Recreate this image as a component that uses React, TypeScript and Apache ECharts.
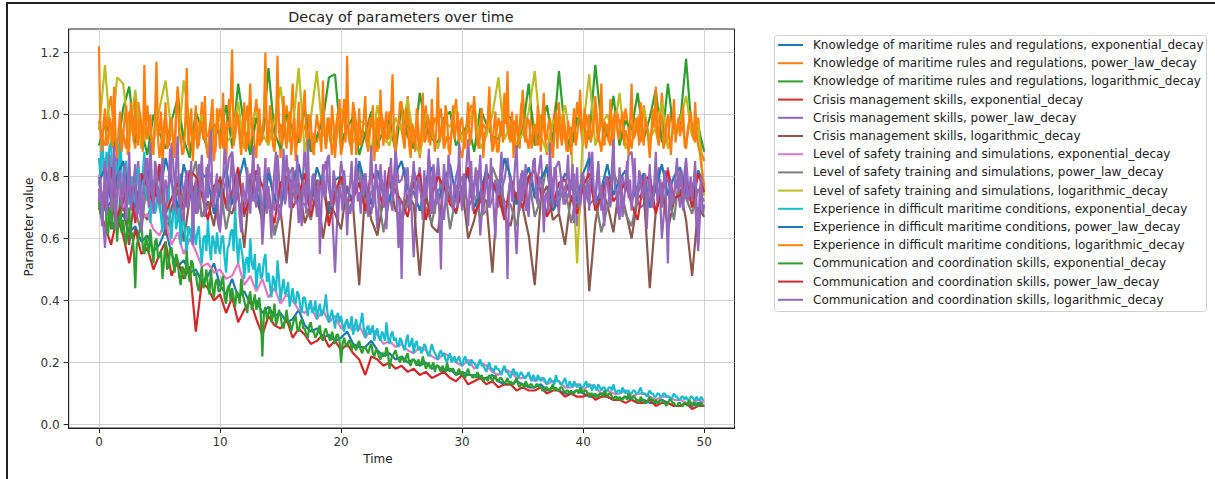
import React, { useEffect, useRef } from "react";
import * as echarts from "echarts";

const FONT = "DejaVu Sans";

const seriesNames = [
  "Knowledge of maritime rules and regulations, exponential_decay",
  "Knowledge of maritime rules and regulations, power_law_decay",
  "Knowledge of maritime rules and regulations, logarithmic_decay",
  "Crisis management skills, exponential_decay",
  "Crisis management skills, power_law_decay",
  "Crisis management skills, logarithmic_decay",
  "Level of safety training and simulations, exponential_decay",
  "Level of safety training and simulations, power_law_decay",
  "Level of safety training and simulations, logarithmic_decay",
  "Experience in difficult maritime conditions, exponential_decay",
  "Experience in difficult maritime conditions, power_law_decay",
  "Experience in difficult maritime conditions, logarithmic_decay",
  "Communication and coordination skills, exponential_decay",
  "Communication and coordination skills, power_law_decay",
  "Communication and coordination skills, logarithmic_decay",
];

const colors = [
  "#1f77b4", "#ff7f0e", "#2ca02c", "#d62728", "#9467bd",
  "#8c564b", "#e377c2", "#7f7f7f", "#bcbd22", "#17becf",
  "#1f77b4", "#ff7f0e", "#2ca02c", "#d62728", "#9467bd",
];

const T_END = 50;
const xTicks = [0, 10, 20, 30, 40, 50];
const yTicks = [0, 0.2, 0.4, 0.6, 0.8, 1.0, 1.2];

// 1 Knowledge exponential (101 samples over 0..50)
const knowledgeExp = [
  .75,.69,.72,.65,.68,.62,.64,.59,.61,.56,.58,.63,.55,.51,.53,.49,.50,.46,.48,.52,
  .45,.42,.47,.41,.43,.39,.40,.36,.38,.35,.36,.33,.34,.37,.32,.30,.31,.28,.29,.27,
  .28,.30,.26,.25,.25,.27,.24,.22,.23,.21,.22,.20,.21,.19,.20,.18,.19,.17,.18,.16,
  .17,.16,.16,.15,.15,.16,.14,.13,.13,.14,.13,.12,.12,.13,.11,.12,.11,.10,.10,.11,
  .10,.09,.09,.10,.09,.08,.08,.09,.08,.07,.08,.07,.07,.08,.07,.06,.06,.07,.06,.07,
  .06,
];
// 2 Knowledge power law (201)
const knowledgePow = [
  .98,.92,.90,1.01,1.06,.93,.87,.96,.94,.89,1.01,.95,.89,1.04,.97,.91,1.03,.88,.92,.99,
  .86,.94,1.00,.90,.95,.91,1.09,.97,.91,1.02,.88,.93,.99,.90,1.04,.94,.93,.98,.85,.96,
  1.02,.89,.96,1.05,.89,.94,1.00,.92,.94,1.03,.87,.97,1.05,.90,.92,.99,.97,.93,.90,1.06,
  .86,.95,1.03,.91,1.10,.89,.93,.98,.95,1.00,.88,.94,.91,.96,1.02,.89,.99,.87,.94,1.01,
  .87,.93,.96,.90,1.04,.97,.90,.95,.93,.88,1.00,.92,.88,1.02,.97,.91,1.01,.95,.92,.98,
  .95,.89,1.06,.93,.90,.97,.86,.94,1.03,.91,.94,.99,.97,1.02,.89,.93,.92,.96,1.05,.90,
  .86,.94,.99,1.03,1.02,.90,.93,.97,.95,1.00,.88,.92,.99,.93,1.07,.95,.91,.98,.96,.89,
  1.08,.94,.89,1.01,.94,.90,1.00,.96,.87,.93,.97,1.04,1.01,.95,.92,.88,.96,.91,1.04,.97,
  .90,1.00,.95,.93,1.06,.94,.88,.98,.93,.90,.99,1.02,.97,.92,1.02,.95,.89,.99,.94,.91,
  1.03,.96,.91,.97,.95,.90,1.07,.93,.92,1.01,.98,.94,1.00,.95,.90,.97,.94,.91,.99,.88,
  .85,
];
// 3 Knowledge logarithmic (101)
const knowledgeLog = [
  .90,.97,.93,.88,1.02,1.09,.91,.95,.87,1.00,.94,.89,.98,1.05,.92,.86,1.01,.95,.88,.97,
  .93,1.03,.90,1.10,.96,.87,.99,.92,1.15,.94,.89,1.00,.95,.91,1.02,.88,.93,.98,1.12,1.13,
  .91,.96,.99,.87,.94,1.01,.90,.95,.98,.88,1.03,.93,.89,1.07,.96,.92,.91,.99,1.01,.90,
  .94,.97,.88,1.02,.97,.93,.92,1.00,.99,.89,.95,1.10,.90,.96,1.03,.91,1.14,.94,.89,.99,
  .96,.92,1.16,.97,.93,1.06,.90,.98,.95,1.07,.92,.99,1.08,.91,1.10,.94,.97,1.18,.93,.96,
  .88,
];
// 4 Crisis exponential (101)
const crisisExp = [
  .70,.64,.58,.67,.61,.52,.63,.55,.57,.50,.55,.59,.48,.53,.47,.51,.30,.46,.44,.40,
  .42,.36,.41,.33,.37,.40,.34,.29,.35,.32,.31,.34,.28,.31,.29,.26,.27,.29,.25,.27,
  .24,.26,.23,.21,.16,.22,.21,.19,.20,.18,.19,.17,.18,.16,.17,.15,.16,.17,.15,.14,
  .16,.13,.14,.15,.13,.14,.12,.13,.13,.11,.12,.11,.11,.12,.10,.11,.11,.09,.10,.09,
  .09,.10,.08,.09,.09,.08,.08,.07,.08,.07,.07,.08,.06,.07,.07,.06,.06,.07,.05,.06,
  .06,
];
// 5 Crisis power law (201)
const crisisPow = [
  .80,.71,.57,.76,.74,.82,.88,.70,.69,.77,.83,.73,.77,.85,.64,.72,.86,.75,.72,.80,
  .70,.66,.79,.74,.91,.78,.66,.81,.75,.70,.82,.76,.68,.84,.77,.71,.84,.79,.71,.67,
  .62,.74,.79,.86,.88,.77,.73,.69,.70,.76,.81,.72,.76,.83,.58,.74,.83,.78,.69,.87,
  .72,.75,.87,.70,.78,.82,.65,.73,.90,.71,.74,.80,.67,.76,.80,.85,.76,.70,.49,.73,
  .85,.78,.71,.68,.73,.84,.79,.75,.81,.72,.68,.77,.63,.80,.77,.71,.74,.69,.89,.78,
  .79,.83,.70,.75,.54,.76,.83,.72,.71,.87,.76,.68,.86,.74,.66,.79,.75,.71,.80,.84,
  .69,.77,.92,.73,.78,.82,.61,.75,.84,.70,.73,.79,.70,.76,.79,.86,.77,.72,.55,.78,
  .82,.69,.72,.80,.74,.79,.87,.71,.68,.75,.79,.83,.85,.77,.71,.74,.76,.81,.64,.70,
  .80,.73,.88,.76,.73,.84,.69,.78,.79,.71,.83,.75,.66,.80,.75,.87,.88,.76,.72,.70,
  .71,.78,.81,.74,.77,.83,.60,.72,.83,.69,.74,.79,.70,.77,.86,.73,.78,.71,.56,.75,
  .74,
];
// 6 Crisis logarithmic (101)
const crisisLog = [
  .70,.76,.63,.80,.72,.58,.77,.69,.66,.74,.81,.61,.70,.76,.59,.73,.78,.67,.72,.64,
  .80,.70,.68,.75,.57,.79,.73,.66,.76,.62,.69,.52,.74,.78,.65,.71,.79,.60,.72,.68,
  .63,.77,.70,.45,.76,.66,.61,.73,.79,.69,.67,.74,.71,.48,.75,.64,.62,.78,.73,.68,
  .77,.60,.66,.74,.72,.49,.79,.67,.64,.75,.70,.61,.45,.73,.77,.66,.68,.58,.74,.70,
  .80,.43,.65,.76,.71,.62,.78,.69,.60,.73,.75,.44,.69,.77,.63,.72,.76,.66,.48,.70,
  .67,
];
// 7 Level exponential (101)
const levelExp = [
  .80,.86,.74,.79,.70,.76,.72,.66,.68,.63,.61,.66,.58,.62,.55,.60,.56,.51,.52,.49,
  .50,.47,.48,.52,.45,.48,.43,.47,.41,.44,.39,.42,.40,.37,.36,.38,.34,.37,.33,.35,
  .31,.33,.30,.32,.28,.31,.29,.26,.27,.25,.26,.24,.23,.25,.24,.22,.21,.23,.22,.20,
  .19,.21,.18,.20,.19,.17,.16,.18,.17,.15,.15,.16,.14,.15,.13,.14,.14,.12,.12,.13,
  .11,.13,.12,.10,.11,.10,.10,.11,.09,.10,.10,.09,.08,.09,.09,.08,.08,.07,.07,.08,
  .07,
];
// 8 Level power law (101)
const levelPow = [
  .78,.71,.66,.83,.74,.79,.69,.62,.81,.73,.76,.68,.64,.80,.72,.77,.85,.67,.70,.74,
  .78,.63,.73,.82,.67,.75,.80,.70,.74,.61,.69,.79,.83,.72,.71,.66,.76,.81,.65,.73,
  .79,.69,.72,.84,.68,.75,.77,.62,.73,.80,.66,.71,.82,.76,.70,.65,.75,.79,.63,.74,
  .80,.70,.74,.67,.69,.83,.78,.72,.71,.64,.76,.80,.67,.73,.84,.69,.72,.77,.65,.75,
  .79,.71,.73,.62,.70,.81,.77,.68,.64,.74,.81,.72,.69,.78,.75,.66,.82,.73,.68,.76,
  .72,
];
// 9 Level logarithmic (101)
const levelLog = [
  .95,1.16,.90,1.12,1.10,.93,1.08,.89,.96,.91,1.02,1.11,.94,.88,1.11,.97,.92,1.00,.87,.95,
  .99,.91,.93,1.04,.89,.97,1.01,.94,.90,.98,1.09,.92,.95,1.15,.88,.99,1.14,.93,.96,.90,
  1.02,.94,.91,.98,.97,.88,1.03,.93,.90,.99,.95,1.05,.92,.87,1.00,.94,.89,.98,.96,1.02,
  .91,.95,1.04,.89,.93,1.00,1.12,.92,.97,.90,.94,1.01,1.14,.93,.88,.98,.95,1.03,.91,.52,
  .96,1.13,.90,.97,1.00,.93,1.07,.89,.94,.99,1.02,.92,.96,1.04,.89,.95,.98,1.06,.93,.97,
  .74,
];
// 10 Experience exponential (401)
const experienceExp = [
  .86,.80,.95,.84,.78,.88,.83,.90,.91,.79,.74,.85,.82,.76,.97,.81,.77,.83,.85,.74,
  .71,.79,.80,.73,.69,.78,.83,.72,.76,.81,.88,.75,.72,.76,.65,.73,.79,.68,.70,.77,
  .74,.67,.62,.71,.68,.73,.77,.64,.60,.69,.71,.63,.66,.70,.58,.65,.67,.61,.55,.64,
  .63,.59,.70,.62,.58,.62,.64,.57,.52,.60,.61,.56,.66,.58,.53,.61,.59,.55,.62,.57,
  .55,.60,.61,.54,.49,.57,.58,.62,.63,.56,.70,.59,.52,.60,.57,.54,.47,.53,.54,.49,
  .60,.52,.50,.55,.44,.50,.52,.47,.48,.53,.55,.46,.49,.45,.41,.48,.46,.43,.53,.47,
  .40,.44,.47,.42,.43,.46,.38,.41,.44,.40,.39,.43,.42,.38,.36,.41,.41,.38,.35,.39,
  .40,.36,.37,.40,.34,.37,.39,.35,.36,.38,.42,.36,.33,.35,.37,.34,.31,.35,.36,.33,
  .35,.32,.30,.33,.34,.31,.32,.35,.29,.32,.34,.30,.31,.33,.36,.31,.28,.31,.32,.29,
  .30,.32,.27,.30,.31,.28,.27,.30,.29,.27,.33,.28,.26,.29,.30,.27,.28,.26,.25,.28,
  .27,.25,.24,.27,.29,.25,.26,.28,.23,.26,.27,.24,.25,.23,.24,.26,.25,.23,.22,.24,
  .26,.24,.23,.22,.21,.23,.24,.22,.23,.21,.20,.22,.23,.20,.21,.22,.20,.21,.22,.20,
  .19,.21,.22,.20,.20,.19,.21,.20,.20,.19,.18,.20,.21,.19,.19,.18,.17,.19,.20,.18,
  .18,.17,.19,.18,.18,.17,.16,.18,.19,.17,.17,.16,.15,.17,.18,.16,.17,.15,.16,.17,
  .16,.15,.15,.16,.17,.15,.14,.16,.15,.14,.16,.15,.14,.15,.15,.14,.13,.14,.15,.14,
  .14,.13,.16,.14,.14,.13,.13,.14,.15,.13,.12,.14,.13,.12,.14,.13,.12,.13,.13,.12,
  .12,.13,.14,.12,.13,.12,.11,.13,.12,.11,.13,.12,.11,.12,.12,.11,.11,.12,.12,.11,
  .13,.11,.10,.11,.11,.10,.12,.11,.10,.11,.11,.10,.10,.11,.11,.10,.10,.11,.12,.10,
  .10,.10,.09,.10,.11,.10,.10,.09,.09,.10,.10,.09,.09,.10,.10,.09,.09,.09,.08,.09,
  .10,.09,.09,.08,.08,.09,.09,.08,.09,.08,.08,.09,.09,.08,.08,.09,.08,.08,.09,.08,
  .08,
];
// 11 Experience power law (101)
const experiencePow = [
  .78,.83,.72,.80,.85,.74,.70,.79,.82,.75,.73,.86,.78,.70,.84,.76,.72,.81,.79,.68,
  .75,.83,.71,.78,.86,.74,.76,.67,.81,.73,.70,.80,.78,.84,.74,.72,.83,.77,.68,.79,
  .80,.75,.73,.85,.77,.71,.82,.74,.72,.81,.85,.76,.75,.69,.79,.83,.72,.78,.84,.73,
  .76,.81,.70,.75,.82,.77,.74,.86,.80,.71,.77,.83,.73,.79,.83,.69,.75,.81,.78,.72,
  .81,.86,.71,.76,.84,.74,.79,.82,.72,.77,.81,.70,.76,.84,.74,.80,.83,.75,.72,.82,
  .77,
];
// 12 Experience logarithmic (401)
const experienceLog = [
  1.22,.95,.88,.97,1.02,.90,.91,.99,.97,.89,1.09,.93,.86,.95,1.01,.88,.93,.99,1.03,.87,
  .89,1.04,.98,.91,1.05,.92,.90,1.00,.96,.88,1.16,.94,.92,.97,1.00,.90,.87,.99,1.17,.93,
  .95,1.01,.84,.92,1.04,.89,.90,.98,.99,.91,.86,1.00,1.08,.94,.93,.87,.88,.96,1.15,.90,
  .94,1.02,.85,.93,1.03,.89,.91,.98,.97,.92,1.06,.90,.86,.94,.99,1.05,.92,.88,1.02,.96,
  .89,.93,1.07,.91,.84,.97,.96,1.04,1.21,.90,.93,1.01,.98,.92,.87,.95,1.04,.88,.90,.99,
  1.10,.93,.95,.89,.86,.97,1.02,.91,.94,1.00,1.20,.92,.91,1.03,.99,.90,.88,.96,1.19,.94,
  .97,.90,1.06,.93,.89,.98,1.01,.87,.92,.99,.85,.94,1.04,.91,.96,1.02,1.08,.93,.90,1.00,
  .98,.89,.87,.95,1.00,.96,.93,.88,1.11,.94,.89,.99,.95,.91,1.03,.97,.86,.93,.99,1.05,
  .90,.98,1.05,.91,1.19,.95,.92,.87,.98,1.01,.87,.93,1.02,.90,.94,.99,1.06,.92,.91,.99,
  .96,1.03,.85,.94,.99,.89,1.08,.95,.90,.97,1.01,.92,.93,1.00,1.13,.91,.88,.96,.97,1.04,
  1.04,.94,.91,1.02,.99,.90,.86,.97,.95,.88,1.02,.96,.89,.93,1.07,.91,.92,1.00,.98,.90,
  1.05,.94,.88,.96,1.12,.91,.94,.99,.90,1.03,1.00,.89,.87,.95,1.03,.92,.96,1.01,.91,.98,
  .99,.93,.89,.97,1.04,.90,.93,1.00,1.06,.95,.92,.89,.97,1.02,.86,.94,.95,.99,1.09,.93,
  .90,.96,1.01,.88,.88,.94,.98,.91,1.02,.97,1.14,.92,.93,1.01,.86,.95,1.00,.90,.96,1.03,
  1.05,.93,.91,.99,.98,.94,.89,.96,.97,.90,1.03,.95,.88,.99,1.07,.92,.92,.97,.99,.91,
  .86,.94,1.01,.89,1.04,.93,.90,1.00,.95,.88,.98,.94,.87,.96,1.02,.90,.93,.99,1.08,.95,
  .96,1.02,.89,.93,1.00,.91,.94,.98,1.03,.95,.91,.97,1.10,.92,.90,.96,.97,.91,1.05,.94,
  .88,1.01,.99,.93,.92,.98,1.01,.90,.95,.93,.87,.97,1.10,.92,.93,.97,.99,.90,1.04,.95,
  .90,.99,.97,.92,.86,.94,1.02,.96,1.09,.93,.94,1.00,.99,.89,.91,.97,1.00,.92,.87,.96,
  1.05,.91,.95,.99,.93,.97,1.03,.90,.89,.95,.98,1.01,.96,.92,1.04,.94,.90,.88,.84,.80,
  .76,
];
// 13 Communication exponential (401)
const communicationExp = [
  .72,.68,.66,.74,.78,.65,.61,.70,.70,.63,.64,.69,.59,.67,.73,.62,.66,.61,.58,.65,
  .70,.60,.62,.56,.44,.58,.60,.63,.67,.57,.55,.61,.58,.55,.63,.57,.52,.59,.60,.54,
  .54,.56,.47,.53,.59,.50,.51,.57,.57,.52,.49,.55,.53,.48,.45,.51,.50,.47,.56,.49,
  .46,.53,.52,.48,.49,.45,.43,.48,.51,.44,.46,.50,.45,.42,.50,.44,.41,.46,.47,.43,
  .43,.46,.48,.41,.39,.44,.45,.40,.44,.41,.38,.43,.42,.39,.47,.42,.40,.38,.36,.41,
  .43,.37,.39,.42,.37,.39,.41,.35,.22,.36,.38,.34,.36,.38,.33,.35,.39,.32,.34,.37,
  .35,.32,.31,.34,.37,.33,.33,.30,.32,.34,.35,.31,.30,.33,.34,.31,.31,.29,.28,.32,
  .33,.30,.30,.28,.29,.31,.32,.28,.27,.30,.31,.29,.28,.27,.30,.28,.26,.29,.29,.27,
  .20,.26,.28,.26,.25,.27,.27,.24,.26,.25,.24,.26,.27,.24,.23,.25,.25,.24,.23,.25,
  .26,.23,.22,.24,.24,.22,.21,.23,.23,.22,.25,.23,.18,.21,.22,.23,.24,.22,.21,.20,
  .22,.21,.20,.22,.23,.20,.19,.21,.21,.20,.19,.21,.20,.19,.22,.20,.18,.19,.20,.18,
  .19,.20,.17,.19,.19,.18,.17,.19,.18,.17,.20,.18,.17,.18,.18,.17,.16,.17,.18,.16,
  .17,.16,.15,.17,.18,.16,.16,.15,.16,.15,.17,.16,.15,.16,.14,.15,.15,.14,.16,.15,
  .14,.15,.16,.14,.14,.15,.15,.14,.13,.14,.15,.13,.14,.13,.13,.14,.15,.13,.12,.13,
  .13,.12,.14,.13,.12,.13,.13,.12,.12,.13,.13,.12,.12,.11,.11,.12,.12,.11,.11,.12,
  .13,.11,.12,.11,.11,.12,.12,.11,.10,.11,.11,.10,.11,.10,.10,.11,.11,.10,.12,.11,
  .10,.11,.11,.10,.09,.10,.10,.09,.10,.09,.09,.10,.10,.09,.11,.10,.09,.10,.10,.09,
  .08,.09,.09,.08,.09,.08,.08,.09,.09,.08,.10,.09,.08,.09,.09,.08,.08,.07,.09,.08,
  .08,.07,.07,.08,.09,.08,.08,.07,.08,.07,.07,.08,.08,.07,.07,.06,.07,.08,.08,.07,
  .07,.06,.06,.07,.07,.06,.06,.07,.07,.06,.08,.07,.06,.07,.07,.06,.06,.07,.07,.06,
  .06,
];
// 14 Communication power law (101)
const communicationPow = [
  .76,.70,.83,.67,.72,.79,.65,.81,.77,.71,.84,.68,.73,.78,.69,.82,.80,.74,.66,.77,
  .79,.71,.75,.83,.68,.73,.82,.77,.71,.65,.78,.80,.70,.74,.81,.67,.76,.79,.64,.75,
  .80,.72,.73,.78,.69,.82,.77,.70,.83,.75,.72,.67,.78,.81,.66,.74,.80,.77,.71,.69,
  .76,.83,.68,.72,.81,.78,.74,.66,.79,.73,.70,.80,.82,.75,.67,.71,.78,.79,.73,.68,
  .77,.81,.69,.74,.80,.72,.75,.78,.71,.66,.79,.80,.68,.76,.82,.73,.74,.79,.70,.81,
  .75,
];
// 15 Communication logarithmic (401)
const communicationLog = [
  .72,.80,.64,.71,.85,.68,.78,.87,.69,.76,.90,.63,.74,.82,.81,.70,.77,.84,.66,.75,
  .88,.69,.73,.79,.84,.67,.70,.81,.62,.74,.79,.86,.75,.70,.91,.78,.68,.85,.83,.72,
  .71,.79,.86,.68,.63,.76,.77,.89,.80,.73,.69,.84,.93,.71,.74,.66,.66,.78,.82,.70,
  .76,.85,.58,.73,.79,.68,.71,.80,.87,.74,.67,.83,.73,.86,.95,.72,.70,.77,.81,.64,
  .64,.75,.78,.89,.85,.69,.72,.80,.88,.74,.69,.81,.76,.67,.62,.78,.74,.71,.83,.76,
  .68,.79,.90,.73,.70,.84,.79,.72,.65,.77,.86,.68,.77,.69,.60,.75,.82,.88,.73,.66,
  .68,.78,.89,.71,.75,.83,.80,.69,.83,.76,.71,.87,.78,.70,.64,.79,.76,.68,.92,.74,
  .69,.80,.81,.72,.72,.79,.55,.70,.84,.73,.75,.86,.87,.74,.70,.82,.79,.71,.66,.77,
  .74,.69,.82,.76,.61,.73,.78,.85,.69,.77,.86,.72,.75,.68,.80,.74,.81,.75,.67,.79,
  .90,.70,.73,.84,.76,.71,.84,.78,.70,.82,.63,.75,.79,.86,.72,.77,.88,.69,.57,.73,
  .47,.70,.74,.81,.83,.72,.69,.78,.85,.76,.71,.80,.78,.73,.66,.82,.73,.77,.89,.70,
  .68,.84,.80,.71,.76,.68,.50,.74,.84,.79,.72,.87,.82,.73,.69,.78,.77,.70,.91,.75,
  .70,.81,.79,.72,.64,.76,.85,.69,.77,.83,.73,.80,.87,.71,.68,.75,.83,.74,.70,.86,
  .76,.69,.60,.78,.74,.80,.88,.73,.71,.67,.47,.76,.80,.72,.76,.84,.90,.74,.69,.81,
  .72,.77,.84,.70,.67,.79,.78,.85,.86,.73,.71,.80,.79,.75,.62,.74,.75,.69,.91,.77,
  .70,.83,.82,.72,.68,.78,.80,.71,.74,.79,.87,.73,.78,.84,.65,.76,.83,.70,.72,.81,
  .81,.71,.74,.79,.69,.82,.88,.75,.71,.78,.85,.73,.77,.70,.64,.80,.79,.74,.70,.83,
  .92,.76,.75,.68,.83,.77,.67,.72,.78,.85,.73,.79,.69,.75,.86,.71,.74,.82,.80,.73,
  .76,.81,.63,.74,.84,.70,.71,.78,.88,.72,.75,.79,.70,.77,.82,.69,.52,.74,.79,.71,
  .73,.80,.86,.75,.77,.82,.69,.76,.83,.72,.74,.80,.72,.78,.85,.70,.58,.75,.80,.68,
  .71,
];

const seriesValues = [
  knowledgeExp, knowledgePow, knowledgeLog,
  crisisExp, crisisPow, crisisLog,
  levelExp, levelPow, levelLog,
  experienceExp, experiencePow, experienceLog,
  communicationExp, communicationPow, communicationLog,
];

export default function App() {
  const ref = useRef<HTMLDivElement>(null);

  useEffect(() => {
    if (!ref.current) return;
    const chart = echarts.init(ref.current, undefined, { renderer: "svg" });

    const series = seriesValues.map((vals, k) => {
      const step = T_END / (vals.length - 1);
      return {
        name: seriesNames[k],
        type: "line",
        data: vals.map((v, i) => [i * step, v]),
        showSymbol: false,
        symbol: "none",
        lineStyle: { width: 2.2, color: colors[k] },
        itemStyle: { color: colors[k] },
        emphasis: { disabled: true },
        silent: true,
        z: 2,
      };
    });

    const axisColor = "#222";
    chart.setOption({
      animation: false,
      backgroundColor: "#ffffff",
      textStyle: { fontFamily: FONT },
      grid: {
        left: 68.7,
        top: 29,
        width: 665.8,
        height: 399,
        show: true,
        borderColor: axisColor,
        borderWidth: 1,
        backgroundColor: "transparent",
        containLabel: false,
      },
      xAxis: {
        type: "value",
        min: -2.5,
        max: 52.5,
        axisLine: { show: true, onZero: false, lineStyle: { color: axisColor, width: 1 } },
        axisTick: { show: true, length: 5, customValues: xTicks, lineStyle: { color: axisColor } },
        axisLabel: {
          customValues: xTicks,
          color: "#333",
          fontSize: 12,
          fontFamily: FONT,
          margin: 8,
          formatter: (v: number) => String(v),
        },
        splitLine: { show: true, lineStyle: { color: "#d2d2d2", width: 1 } },
      },
      yAxis: {
        type: "value",
        min: -0.011,
        max: 1.276,
        axisLine: { show: true, onZero: false, lineStyle: { color: axisColor, width: 1 } },
        axisTick: { show: true, length: 5, customValues: yTicks, lineStyle: { color: axisColor } },
        axisLabel: {
          customValues: yTicks,
          color: "#333",
          fontSize: 12,
          fontFamily: FONT,
          margin: 9,
          formatter: (v: number) => v.toFixed(1),
        },
        splitLine: { show: true, lineStyle: { color: "#d2d2d2", width: 1 } },
      },
      legend: {
        orient: "vertical",
        left: 778,
        top: 38,
        padding: 0,
        itemGap: 4.2,
        itemWidth: 25,
        itemHeight: 2,
        icon: "rect",
        selectedMode: false,
        textStyle: {
          color: "#222",
          fontSize: 12,
          fontFamily: FONT,
          lineHeight: 14,
          padding: [0, 0, 0, 5],
        },
        data: seriesNames,
      },
      graphic: [
        {
          type: "rect",
          shape: { x: 774.5, y: 35.5, width: 432, height: 276, r: 3 },
          style: { fill: "none", stroke: "#d0d0d0", lineWidth: 1 },
          silent: true,
        },
        {
          type: "line",
          shape: { x1: 6, y1: 3, x2: 1215, y2: 3 },
          style: { stroke: "#222", lineWidth: 2 },
          silent: true,
        },
        {
          type: "line",
          shape: { x1: 7, y1: 2, x2: 7, y2: 479 },
          style: { stroke: "#222", lineWidth: 2 },
          silent: true,
        },
        {
          type: "text",
          x: 401,
          y: 17,
          style: {
            text: "Decay of parameters over time",
            fill: "#222",
            font: `14.4px "${FONT}"`,
            align: "center",
            verticalAlign: "middle",
          },
        },
        {
          type: "text",
          x: 378,
          y: 459,
          style: {
            text: "Time",
            fill: "#222",
            font: `12px "${FONT}"`,
            align: "center",
            verticalAlign: "middle",
          },
        },
        {
          type: "text",
          x: 29,
          y: 227,
          rotation: Math.PI / 2,
          style: {
            text: "Parameter value",
            fill: "#222",
            font: `12px "${FONT}"`,
            align: "center",
            verticalAlign: "middle",
          },
        },
      ],
      series,
    });

    return () => {
      chart.dispose();
    };
  }, []);

  return (
    <div
      ref={ref}
      style={{ position: "absolute", left: 0, top: 0, width: 1215, height: 479 }}
    />
  );
}
